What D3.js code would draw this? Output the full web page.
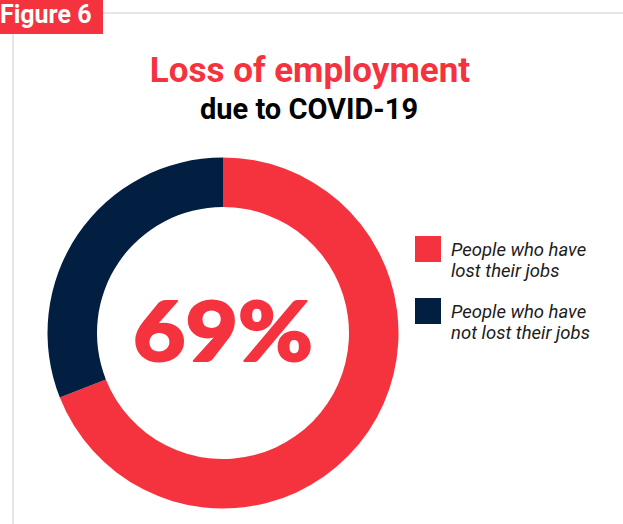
<!DOCTYPE html>
<html>
<head>
<meta charset="utf-8">
<script src="https://cdn.jsdelivr.net/npm/d3@7"></script>
<style>
  html, body { margin: 0; padding: 0; background: #ffffff; }
  svg { display: block; }
</style>
</head>
<body>
<svg id="chart" width="623" height="524"></svg>
<script>
// Share of respondents by employment outcome
const categories = ["People who have lost their jobs", "People who have not lost their jobs"];
const legendLines = [["People who have", "lost their jobs"], ["People who have", "not lost their jobs"]];
const values = [69, 31];
const colors = ["#f5333f", "#021e41"];
const figureLabel = "Figure 6";
const titleText = "Loss of employment";
const subtitleText = "due to COVID-19";

const W = 623, H = 524;
const svg = d3.select("#chart");

// Frame: grey rules and the figure tag
svg.append("line")
  .attr("x1", 100).attr("x2", W).attr("y1", 13).attr("y2", 13)
  .attr("stroke", "#e6e6e6").attr("stroke-width", 2);
svg.append("line")
  .attr("x1", 13).attr("x2", 13).attr("y1", 30).attr("y2", H)
  .attr("stroke", "#e6e6e6").attr("stroke-width", 2);
svg.append("rect")
  .attr("x", 0).attr("y", 0).attr("width", 103).attr("height", 34)
  .attr("fill", colors[0]);
svg.append("text")
  .attr("x", 0).attr("y", 23)
  .attr("font-family", "Roboto").attr("font-weight", 700).attr("font-size", 25)
  .attr("fill", "#ffffff")
  .text(figureLabel);

// Titles
svg.append("text")
  .attr("x", 310).attr("y", 82)
  .attr("text-anchor", "middle")
  .attr("font-family", "Roboto").attr("font-weight", 700).attr("font-size", 35)
  .attr("fill", colors[0])
  .text(titleText);
svg.append("text")
  .attr("x", 309).attr("y", 119)
  .attr("text-anchor", "middle")
  .attr("font-family", "Roboto").attr("font-weight", 700).attr("font-size", 29)
  .attr("fill", "#000000")
  .text(subtitleText);

// Donut
const cx = 223, cy = 333;
const pie = d3.pie().sort(null).value(d => d);
const arc = d3.arc().innerRadius(126).outerRadius(175.5);
const g = svg.append("g").attr("transform", `translate(${cx},${cy})`);
g.selectAll("path")
  .data(pie(values))
  .join("path")
  .attr("d", arc)
  .attr("fill", (d, i) => colors[i]);

// Central figure
g.append("text")
  .attr("x", 0).attr("y", 28)
  .attr("text-anchor", "middle")
  .attr("font-family", "Lato").attr("font-weight", 900).attr("font-size", 81)
  .attr("textLength", 180).attr("lengthAdjust", "spacingAndGlyphs")
  .attr("fill", colors[0])
  .attr("stroke", colors[0]).attr("stroke-width", 2).attr("stroke-linejoin", "round")
  .text(values[0] + "%");

// Legend
const legend = svg.append("g").attr("transform", "translate(415,236)");
const item = legend.selectAll("g")
  .data(categories)
  .join("g")
  .attr("transform", (d, i) => `translate(0,${i * 62})`);
item.append("rect")
  .attr("width", 26).attr("height", 26)
  .attr("fill", (d, i) => colors[i]);
item.append("text")
  .attr("font-family", "Roboto").attr("font-style", "italic").attr("font-size", 18.5)
  .attr("fill", "#1c1c1c")
  .selectAll("tspan")
  .data((d, i) => legendLines[i])
  .join("tspan")
  .attr("x", 36)
  .attr("y", (d, j) => 20 + j * 21)
  .text(d => d);
</script>
</body>
</html>
